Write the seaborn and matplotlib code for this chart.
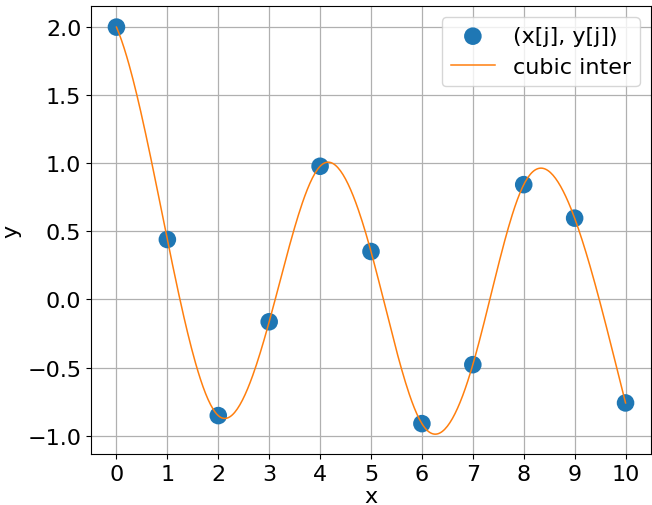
import numpy as np
import pandas as pd
import seaborn as sns
import matplotlib
matplotlib.use("Agg")
import matplotlib.pyplot as plt

# sample points
x_pts = [0, 1, 2, 3, 4, 5, 6, 7, 8, 9, 10]
y_pts = [2.0, 0.44, -0.853, -0.164, 0.978, 0.352, -0.912, -0.479, 0.843, 0.597, -0.76]


def cubic_inter(xs, ys, xnew):
    # not-a-knot cubic spline (same as interp1d kind='cubic')
    xs = np.asarray(xs, float)
    ys = np.asarray(ys, float)
    n = len(xs)
    h = np.diff(xs)
    A = np.zeros((n, n))
    b = np.zeros(n)
    A[0, 0], A[0, 1], A[0, 2] = h[1], -(h[0] + h[1]), h[0]
    A[-1, -3], A[-1, -2], A[-1, -1] = h[-1], -(h[-2] + h[-1]), h[-2]
    for i in range(1, n - 1):
        A[i, i - 1] = h[i - 1]
        A[i, i] = 2 * (h[i - 1] + h[i])
        A[i, i + 1] = h[i]
        b[i] = 6 * ((ys[i + 1] - ys[i]) / h[i] - (ys[i] - ys[i - 1]) / h[i - 1])
    M = np.linalg.solve(A, b)
    k = np.clip(np.searchsorted(xs, xnew) - 1, 0, n - 2)
    hk = h[k]
    t1 = xs[k + 1] - xnew
    t0 = xnew - xs[k]
    return (M[k] * t1 ** 3 + M[k + 1] * t0 ** 3) / (6 * hk) \
        + (ys[k] / hk - M[k] * hk / 6) * t1 \
        + (ys[k + 1] / hk - M[k + 1] * hk / 6) * t0


x_dense = np.linspace(0, 10, 401)
y_dense = cubic_inter(x_pts, y_pts, x_dense)

pts = pd.DataFrame({"x": x_pts, "y": y_pts})
curve = pd.DataFrame({"x": x_dense, "y": y_dense})

plt.rcParams["font.size"] = 16
fig = plt.figure(figsize=(6.52, 5.06), dpi=100)
ax = fig.add_axes([91 / 652, 51 / 506, 560 / 652, 448 / 506])

sns.scatterplot(data=pts, x="x", y="y", s=160, color="C0", edgecolor="none",
                label="(x[j], y[j])", ax=ax, zorder=3)
sns.lineplot(data=curve, x="x", y="y", color="C1", linewidth=1.1,
             sort=False, estimator=None, label="cubic inter", ax=ax, zorder=4)

ax.set_xticks(range(11))
ax.set_xlim(-0.5, 10.5)
ax.set_ylim(-1.135, 2.155)
ax.grid(True, color="#b0b0b0", linewidth=0.9)
ax.set_axisbelow(True)
ax.set_xlabel("x", labelpad=2)
ax.set_ylabel("y")
ax.legend(loc="upper right")

fig.savefig("out.png", dpi=100)
